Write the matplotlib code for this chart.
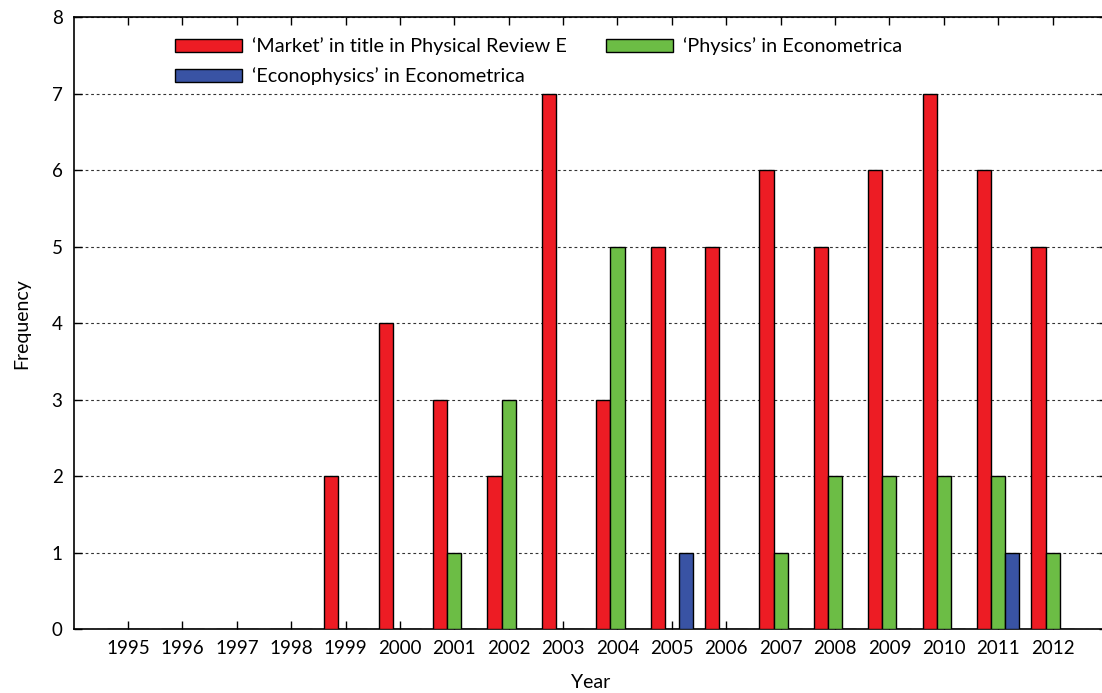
import matplotlib
matplotlib.use('Agg')
import matplotlib.pyplot as plt
import numpy as np

plt.rcParams['font.family'] = ['Lato', 'DejaVu Sans']

years = ['1995', '1996', '1997', '1998', '1999', '2000', '2001', '2002', '2003',
         '2004', '2005', '2006', '2007', '2008', '2009', '2010', '2011', '2012']
market_pre = [0, 0, 0, 0, 2, 4, 3, 2, 7, 3, 5, 5, 6, 5, 6, 7, 6, 5]
physics_ecm = [0, 0, 0, 0, 0, 0, 1, 3, 0, 5, 0, 0, 1, 2, 2, 2, 2, 1]
econophys_ecm = [0, 0, 0, 0, 0, 0, 0, 0, 0, 0, 1, 0, 0, 0, 0, 0, 1, 0]

labels = ['\u2018Market\u2019 in title in Physical Review E',
          '\u2018Physics\u2019 in Econometrica',
          '\u2018Econophysics\u2019 in Econometrica']
colors = ['#ED1C24', '#6CBD45', '#3953A4']

fig = plt.figure(figsize=(11.02, 6.93), dpi=100)
ax = fig.add_axes([0.0668, 0.0924, 0.9377, 0.8824])

# clustered bars: red left, green centre (on the tick), blue right
x = np.arange(len(years))
w = 0.26
bars = []
for i, vals in enumerate([market_pre, physics_ecm, econophys_ecm]):
    b = ax.bar(x + (i - 1) * w, vals, w, color=colors[i], edgecolor='black',
               linewidth=1.0, label=labels[i], zorder=3)
    bars.append(b)

ax.set_xlim(-1, 18)
ax.set_ylim(0, 8)
ax.set_xticks(x)
ax.set_xticklabels(years)
ax.set_yticks(range(0, 9))
ax.tick_params(direction='in', length=6, width=1, top=True, right=True,
               labelsize=13.5, pad=8, colors='black')
ax.yaxis.grid(True, linestyle=(0, (2.5, 2.5)), color='#333333', linewidth=0.8)
ax.set_axisbelow(True)
for s in ax.spines.values():
    s.set_linewidth(1.2)

ax.set_xlabel('Year', fontsize=14, labelpad=12)
ax.set_ylabel('Frequency', fontsize=14, labelpad=15)

ax.legend([bars[0], bars[2], bars[1]], [labels[0], labels[2], labels[1]],
          ncol=2, frameon=False, fontsize=14.3, loc='upper left',
          bbox_to_anchor=(0.098, 0.967), borderpad=0, borderaxespad=0,
          handlelength=3.37, handleheight=0.6,
          columnspacing=2.0, labelspacing=0.6, handletextpad=0.5)

fig.savefig('out.png', dpi=100)
